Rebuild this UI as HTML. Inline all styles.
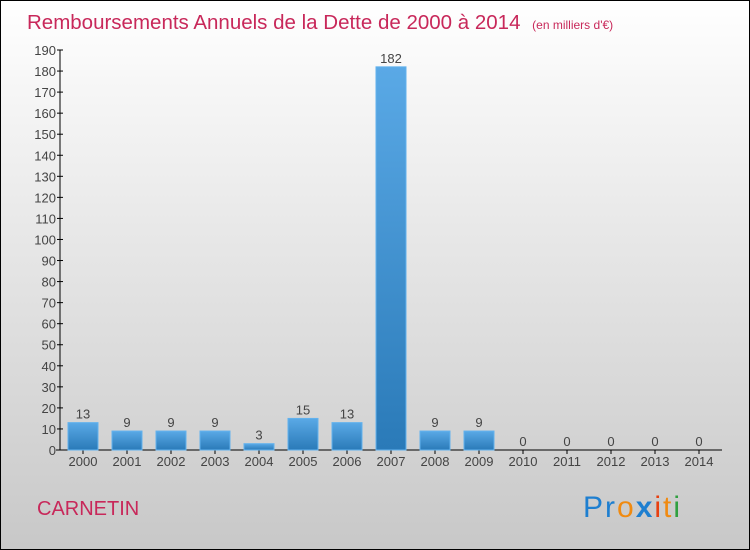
<!DOCTYPE html>
<html><head><meta charset="utf-8"><style>
body{margin:0}
#c{position:relative;width:748px;height:548px;border:1px solid #000;background:linear-gradient(#ffffff,#c8c8c8);font-family:"Liberation Sans",sans-serif;overflow:hidden}
</style></head><body>
<div id="c">
<svg id="s" width="748" height="548" style="position:absolute;left:0;top:0">
<defs><linearGradient id="g" x1="0" y1="0" x2="0" y2="1"><stop offset="0" stop-color="#5aa9e6"/><stop offset="1" stop-color="#2a7ab8"/></linearGradient></defs>
<text x="26" y="28" font-size="20.5" fill="#c8285a">Remboursements Annuels de la Dette de 2000 à 2014 <tspan font-size="12" dx="6">(en milliers d'€)</tspan></text>
<text x="36" y="514" font-size="20" fill="#c8285a">CARNETIN</text>
<text x="582" y="516" font-size="30" letter-spacing="2"><tspan fill="#1e7fd0">Pr</tspan><tspan fill="#f08a10">o</tspan><tspan fill="#1e7fd0" font-weight="bold">x</tspan><tspan fill="#e84010">i</tspan><tspan fill="#f08a10">t</tspan><tspan fill="#30a040">i</tspan></text>
<g id="plot"></g>
</svg>
</div>
<script>
const years=["2000","2001","2002","2003","2004","2005","2006","2007","2008","2009","2010","2011","2012","2013","2014"];
const values=[13,9,9,9,3,15,13,182,9,9,0,0,0,0,0];
const yTicks=[0,10,20,30,40,50,60,70,80,90,100,110,120,130,140,150,160,170,180,190];
const NS="http://www.w3.org/2000/svg";
const g=document.getElementById('plot');
const x0=59,y0=449,ppu=400/190,band=44;
function y(v){return y0-v*ppu;}
function xc(i){return x0+band*i+23;}
function mk(t,a,p){const e=document.createElementNS(NS,t);for(const k in a)e.setAttribute(k,a[k]);(p||g).appendChild(e);return e;}
const ax=mk('line',{x1:x0,y1:y(190),x2:x0,y2:y0,stroke:'#000'});


const bx=mk('line',{x1:x0-4,y1:y0,x2:x0+band*years.length+2,y2:y0,stroke:'#000'});


yTicks.forEach(v=>{
 mk('line',{x1:x0-3,y1:y(v),x2:x0+3,y2:y(v),stroke:'#000'});
 const t=mk('text',{x:x0-4,y:y(v)+5,'text-anchor':'end','font-size':13,fill:'#444'});
 t.textContent=v;
 
 
});
years.forEach((yr,i)=>{
 const v=values[i],c=xc(i);
 mk('line',{x1:c,y1:y0,x2:c,y2:y0+4,stroke:'#000'});
 if(v>0){const r=mk('rect',{x:c-15,y:y(v),width:30,height:y0-y(v),fill:'url(#g)',stroke:'#62b2ee','stroke-width':1});
 
 }
 const l=mk('text',{x:c,y:y(v)-4,'text-anchor':'middle','font-size':13,fill:'#444'});
 l.textContent=v;
 
 
 const t=mk('text',{x:c,y:y0+16,'text-anchor':'middle','font-size':13,fill:'#444'});
 t.textContent=yr;
 
 
});
</script>
</body></html>
